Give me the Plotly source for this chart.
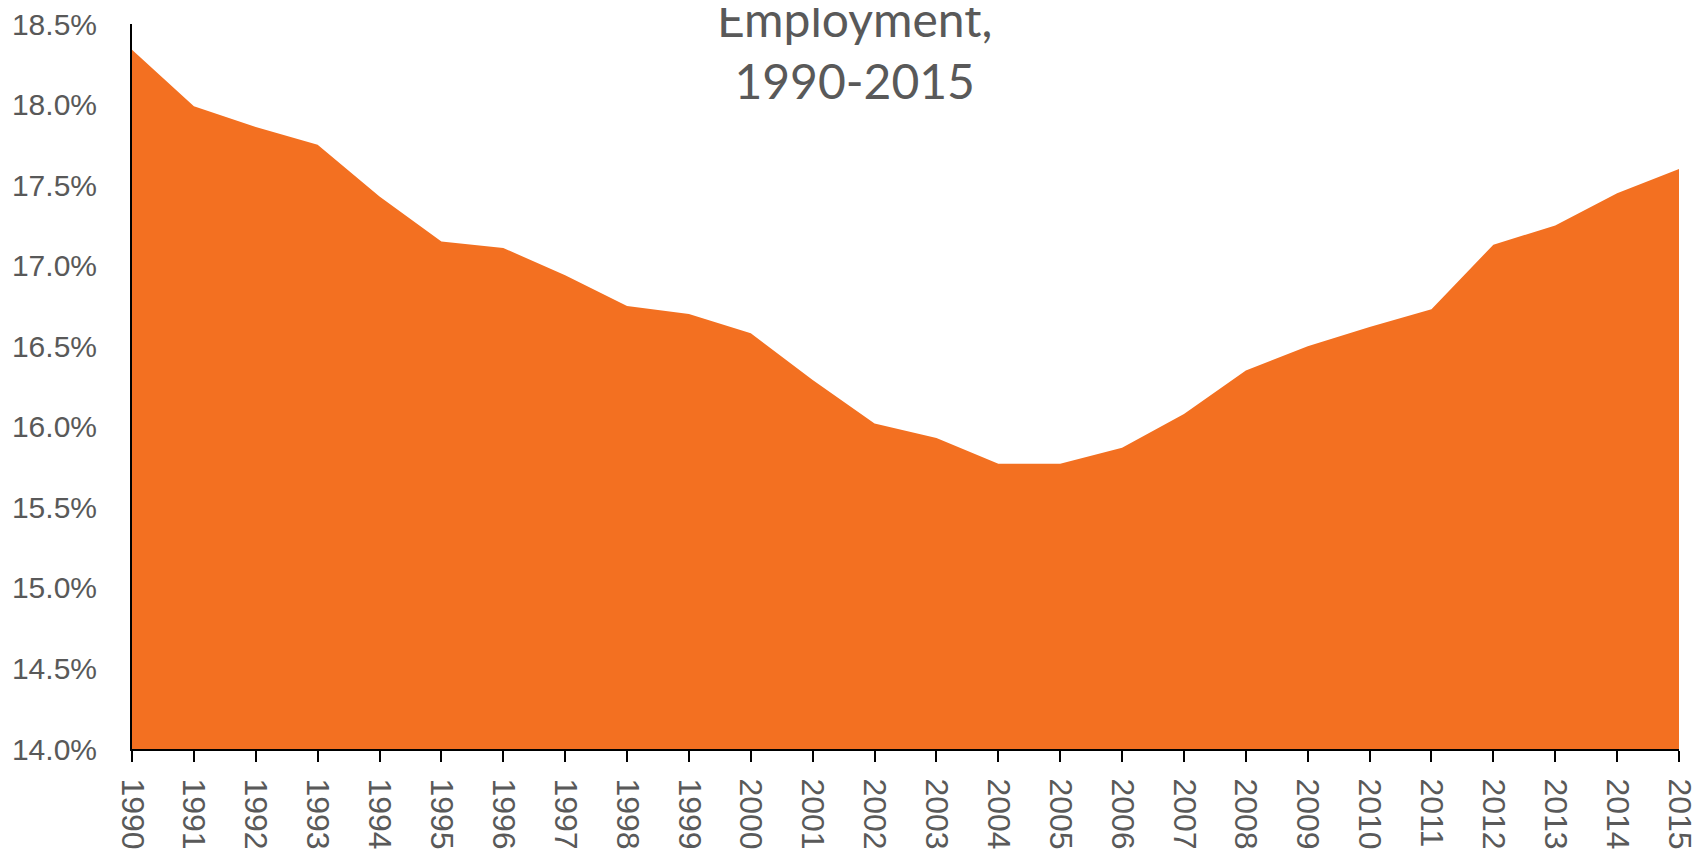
import plotly.graph_objects as go

years = list(range(1990, 2016))
share = [18.34, 17.99, 17.86, 17.75, 17.43, 17.15, 17.11, 16.94, 16.75, 16.70,
         16.58, 16.29, 16.02, 15.93, 15.77, 15.77, 15.87, 16.08, 16.35, 16.50,
         16.62, 16.73, 17.13, 17.25, 17.45, 17.60]
y_ticks = [14.0, 14.5, 15.0, 15.5, 16.0, 16.5, 17.0, 17.5, 18.0, 18.5]
title_text = "Employment,<br>1990-2015"

ORANGE = "#F37021"
GRAY = "#595959"

L, R, T, B = 124, 34, 16, 111
W, H = 1705, 852

fig = go.Figure()
fig.add_trace(go.Scatter(
    x=years, y=share, mode="lines", fill="tozeroy",
    line=dict(color=ORANGE, width=0), fillcolor=ORANGE,
    hoverinfo="x+y", showlegend=False,
))

fig.update_layout(
    width=W, height=H,
    margin=dict(l=L, r=R, t=T, b=B, autoexpand=False),
    plot_bgcolor="white", paper_bgcolor="white",
    showlegend=False,
)
fig.update_xaxes(
    range=[1990, 2015], tickmode="array", tickvals=years,
    ticktext=[str(y) for y in years], tickangle=90,
    showline=True, linecolor="black", linewidth=2,
    ticks="outside", ticklen=11, tickwidth=2, tickcolor="black",
    ticklabelstandoff=10, automargin=False, ticklabeloverflow="allow",
    showgrid=False, zeroline=False,
    tickfont=dict(family="Liberation Sans, Arial", size=32, color=GRAY),
)
fig.update_yaxes(
    range=[14.0, 18.5], tickmode="array", tickvals=y_ticks,
    ticktext=[f"{v:.1f}%" for v in y_ticks],
    showline=True, linecolor="black", linewidth=2,
    ticks="", ticklabelstandoff=27, automargin=False, ticklabeloverflow="allow",
    showgrid=False, zeroline=False,
    tickfont=dict(family="Liberation Sans Narrow, Liberation Sans", size=30, color=GRAY),
)
plot_w = W - L - R
plot_h = H - T - B
fig.add_annotation(
    text=title_text, xref="paper", yref="paper",
    x=(846 - L) / plot_w, y=(H - B - 103) / plot_h,
    xanchor="center", yanchor="bottom", showarrow=False,
    font=dict(family="Lato, Noto Sans", size=48, color=GRAY),
    align="center",
)

fig.write_html("out.html")
